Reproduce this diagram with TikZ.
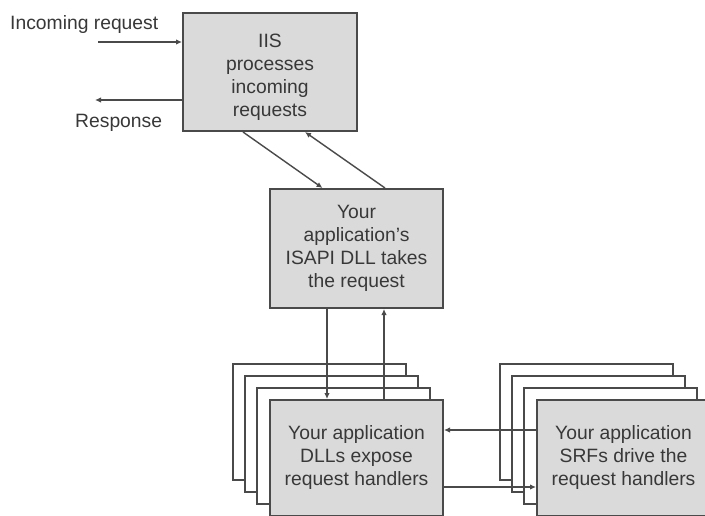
\documentclass[tikz,border=0pt]{standalone}
\usepackage{fontspec}
\setmainfont{Liberation Sans}
\usetikzlibrary{arrows.meta}
\definecolor{edge}{HTML}{4A4A4A}
\definecolor{boxfill}{HTML}{DADADA}
\definecolor{ink}{HTML}{383838}
\begin{document}
\begin{tikzpicture}[x=1pt,y=-1pt,
  every node/.style={text=ink,font=\fontsize{19.3}{23}\selectfont},
  frontbox/.style={draw=edge,line width=2pt,fill=boxfill,minimum width=173pt,minimum height=117pt,align=center,inner sep=0pt},
  backbox/.style={draw=edge,line width=1.8pt,fill=white,minimum width=173pt,minimum height=116pt,inner sep=0pt},
  conn/.style={draw=edge,line width=1.4pt,-{Latex[length=6pt,width=5.5pt]}},
  lbl/.style={inner sep=0pt}]
\path[use as bounding box,fill=white] (0,0) rectangle (705,515);
\begin{scope}
\clip (0,0) rectangle (705,515);
% top boxes
\node[frontbox,minimum width=174pt,minimum height=118pt] (iis) at (270,72) {};
\node[lbl,align=center] (iistext) at (270,77) {IIS\\processes\\incoming\\requests};
\node[frontbox,minimum height=119pt] (isapi) at (356.5,248.5) {Your\\application's\\ISAPI DLL takes\\the request};
% DLL stack
\node[backbox] (d1) at (319.5,422) {};
\node[backbox] (d2) at (331.5,434) {};
\node[backbox] (d3) at (343.5,446) {};
\node[frontbox,minimum height=116pt] (dll) at (356.5,458) {Your application\\DLLs expose\\request handlers};
% SRF stack
\node[backbox] (s1) at (586.5,422) {};
\node[backbox] (s2) at (598.5,434) {};
\node[backbox] (s3) at (610.5,446) {};
\node[frontbox,minimum height=116pt] (srf) at (623.5,458) {Your application\\SRFs drive the\\request handlers};
% labels
\node[lbl,anchor=west] (inclbl) at (10,25) {Incoming request};
\node[lbl,anchor=west] (resplbl) at (75,123) {Response};
\coordinate (incstart) at (98,42);
\coordinate (respend) at (95,100);
% connectors
\draw[conn] (incstart) -- (incstart -| iis.west);
\draw[conn] (respend -| iis.west) -- (respend);
\draw[conn] ([xshift=-27pt]iis.south) -- ([xshift=-34pt]isapi.north);
\draw[conn] ([xshift=28.5pt]isapi.north) -- ([xshift=35pt]iis.south);
\draw[conn] ([xshift=-29.5pt]isapi.south) -- ([xshift=-29.5pt]dll.north);
\draw[conn] ([xshift=27.5pt]dll.north) -- ([xshift=27.5pt]isapi.south);
\draw[conn] ([yshift=28pt]srf.west) -- ([yshift=28pt]dll.east);
\draw[conn] ([yshift=-29pt]dll.east) -- ([yshift=-29pt]srf.west);
\end{scope}
\end{tikzpicture}
\end{document}
